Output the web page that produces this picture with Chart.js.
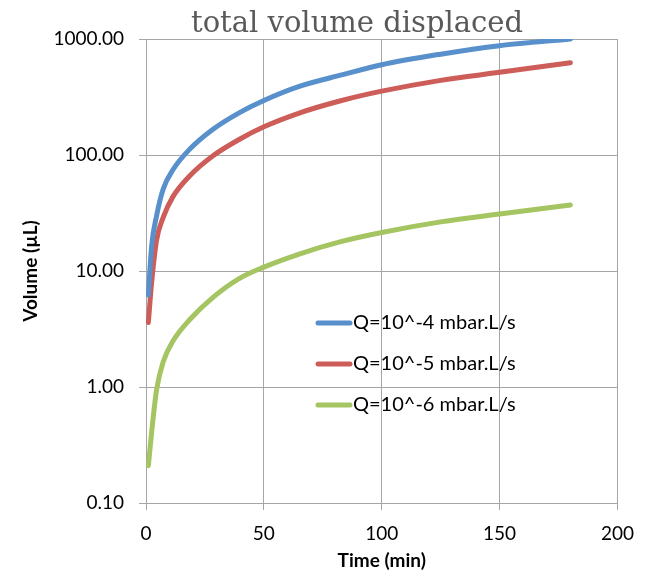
<!DOCTYPE html>
<html>
<head>
<meta charset="utf-8">
<script src="https://cdn.jsdelivr.net/npm/chart.js@4"></script>
<style>
  body { margin: 0; background: #fff; }
  #wrap { width: 646px; height: 578px; }
</style>
</head>
<body>
<div id="wrap"><canvas id="chart" width="646" height="578"></canvas></div>
<script>
// time in minutes
const times = [1, 2.4, 4.5, 7.3, 11.5, 18.5, 28.3, 39.5, 50, 65, 83, 100, 125, 150, 180];
const volQ4 = [6.2, 16.5, 30, 51, 75, 112, 166, 231, 295, 390, 490, 600, 740, 876, 1000];
const volQ5 = [3.6, 8, 18.5, 29, 44, 66, 98, 136, 175, 230, 295, 355, 440, 516, 625];
const volQ6 = [0.21, 0.41, 0.95, 1.65, 2.5, 3.8, 5.9, 8.6, 10.8, 14, 18, 21.5, 26.5, 31, 37];
const seriesLabels = ["Q=10^-4 mbar.L/s", "Q=10^-5 mbar.L/s", "Q=10^-6 mbar.L/s"];
const seriesColors = ["#5890cc", "#cd5d58", "#a5c462"];
const yTicks = [0.1, 1, 10, 100, 1000];

const gridColor = "#a6a6a6";

function toPoints(vals) {
  return times.map((t, i) => ({ x: t, y: vals[i] }));
}

const titlePlugin = {
  id: "titleText",
  afterDraw(chart) {
    const ctx = chart.ctx;
    ctx.save();
    ctx.font = "29px 'DejaVu Serif'";
    ctx.fillStyle = "#595959";
    ctx.textAlign = "center";
    ctx.textBaseline = "alphabetic";
    ctx.fillText("total volume displaced", 357, 32);
    ctx.restore();
  }
};

const legendPlugin = {
  id: "insideLegend",
  afterDraw(chart) {
    const ctx = chart.ctx;
    ctx.save();
    ctx.font = "20px Lato";
    ctx.textBaseline = "middle";
    ctx.fillStyle = "#000";
    chart.data.datasets.forEach((ds, i) => {
      const y = 323 + i * 41;
      ctx.strokeStyle = ds.borderColor;
      ctx.lineWidth = 5;
      ctx.lineCap = "round";
      ctx.beginPath();
      ctx.moveTo(318, y);
      ctx.lineTo(350, y);
      ctx.stroke();
      ctx.fillText(ds.label, 353, y);
    });
    ctx.restore();
  }
};

const ctx = document.getElementById("chart").getContext("2d");
new Chart(ctx, {
  type: "line",
  data: {
    datasets: [volQ4, volQ5, volQ6].map((vals, i) => ({
      label: seriesLabels[i],
      data: toPoints(vals),
      borderColor: seriesColors[i],
      backgroundColor: seriesColors[i],
      borderWidth: 5,
      borderCapStyle: "round",
      pointRadius: 0,
      cubicInterpolationMode: "monotone",
      fill: false
    }))
  },
  options: {
    responsive: false,
    animation: false,
    layout: { padding: { left: 0, right: 24, top: 39, bottom: 0 } },
    plugins: {
      legend: { display: false },
      title: { display: false },
      tooltip: { enabled: false }
    },
    scales: {
      x: {
        type: "linear",
        min: 0,
        max: 200,
        afterFit: s => { s.height = 75; },
        grid: { color: gridColor, lineWidth: 1, tickLength: 7 },
        border: { color: gridColor },
        ticks: {
          stepSize: 50,
          padding: 12,
          color: "#000",
          font: { family: "Lato", size: 19 }
        },
        title: {
          display: true,
          text: "Time (min)",
          color: "#000",
          font: { family: "Lato", size: 19, weight: "bold" },
          padding: { top: 0, bottom: 6 }
        }
      },
      y: {
        type: "logarithmic",
        min: 0.1,
        max: 1000,
        afterFit: s => { s.width = 146; },
        afterBuildTicks: s => { s.ticks = yTicks.map(v => ({ value: v })); },
        grid: { color: gridColor, lineWidth: 1, tickLength: 7 },
        border: { color: gridColor },
        ticks: {
          padding: 15,
          color: "#000",
          font: { family: "Lato", size: 19 },
          callback: v => Number(v).toFixed(2)
        },
        title: {
          display: true,
          text: "Volume (µL)",
          color: "#000",
          font: { family: "Lato", size: 19, weight: "bold" },
          padding: { top: 19, bottom: 0 }
        }
      }
    }
  },
  plugins: [titlePlugin, legendPlugin]
});
</script>
</body>
</html>
